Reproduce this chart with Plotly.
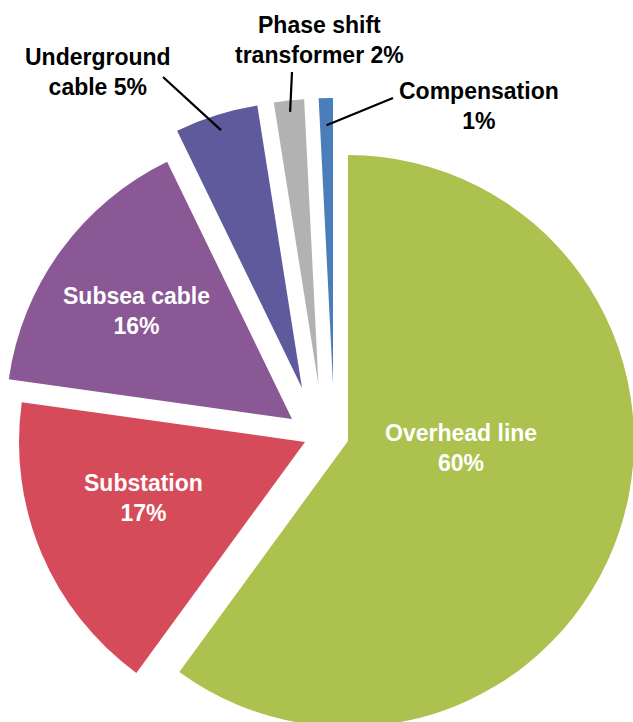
import math
import plotly.graph_objects as go

# Share of total investment cost by asset type (%)
categories = ["Overhead line", "Substation", "Subsea cable",
              "Underground cable", "Phase shift transformer", "Compensation"]
shares = [60.1, 17.2, 15.6, 4.7, 1.7, 0.8]

# ---- styling / layout -------------------------------------------------
colors = ["#ADC14E", "#D64B5A", "#8A5895", "#5F5A9B", "#B2B2B2", "#4A7EBB"]
text_colors = ["white", "white", "white", "black", "black", "black"]
break_after = [2, 1, 2, 1, 2, 1]          # words on the first label line

W, H = 640, 740                            # canvas (page shows the top-left part)
R = 286                                    # pie radius, px
CENTER = (326, 420)                        # pie centre, px from top-left
EXPLODE = [(22, 21), (-21, 22), (-34, -1), (-24, -32), (-7.5, -35), (7, -36)]

# label anchor points (px from top-left)
LABEL_POS = [(461, 448), (143, 498), (136, 311), (98, 72), (319, 40), (479, 106)]
# leader lines for the small slices: tail point and radial fraction of tip
LEADERS = {3: ((163, 77), 0.945), 4: ((292, 72), 0.96), 5: ((393, 98), 0.905)}

FONT = "Liberation Sans, Arial, sans-serif"
FONT_SIZE = 23


def px_to_paper(x, y):
    return x / W, (H - y) / H


total = sum(shares)
fig = go.Figure()

# each slice is drawn by its own pie (others transparent) so it can be offset
cum = 0.0
mids = []
for i, v in enumerate(shares):
    start = cum / total * 360
    cum += v
    end = cum / total * 360
    mids.append((start + end) / 2)

    ax = CENTER[0] + EXPLODE[i][0]
    ay = CENTER[1] + EXPLODE[i][1]
    slice_cols = [colors[j] if j == i else "rgba(0,0,0,0)" for j in range(len(shares))]
    fig.add_trace(go.Pie(
        labels=categories,
        values=shares,
        sort=False,
        direction="clockwise",
        rotation=0,
        marker=dict(colors=slice_cols, line=dict(width=0)),
        textinfo="none",
        hoverinfo="skip",
        showlegend=False,
        domain=dict(x=[(ax - R) / W, (ax + R) / W],
                    y=[(H - ay - R) / H, (H - ay + R) / H]),
    ))

# labels
for i, name in enumerate(categories):
    pct = f"{round(shares[i] / total * 100)}%"
    words = name.split(" ")
    k = break_after[i]
    first = " ".join(words[:k])
    second = " ".join(words[k:] + [pct])
    x, y = px_to_paper(*LABEL_POS[i])
    fig.add_annotation(
        x=x, y=y, xref="paper", yref="paper",
        text=f"<b>{first}<br>{second}</b>",
        showarrow=False, xanchor="center", yanchor="middle",
        align="center",
        font=dict(family=FONT, size=FONT_SIZE, color=text_colors[i]),
    )

# leader lines from label to slice
for i, ((tx, ty), frac) in LEADERS.items():
    ax = CENTER[0] + EXPLODE[i][0]
    ay = CENTER[1] + EXPLODE[i][1]
    a = math.radians(mids[i])
    hx = ax + frac * R * math.sin(a)
    hy = ay - frac * R * math.cos(a)
    x0, y0 = px_to_paper(tx, ty)
    x1, y1 = px_to_paper(hx, hy)
    fig.add_shape(type="line", xref="paper", yref="paper",
                  x0=x0, y0=y0, x1=x1, y1=y1,
                  line=dict(color="black", width=2.2))

fig.update_layout(
    width=W, height=H,
    margin=dict(l=0, r=0, t=0, b=0),
    paper_bgcolor="white",
    plot_bgcolor="white",
)

fig.write_html(
    "out.html",
    config={"displayModeBar": False},
    post_script=("document.body.style.margin='0';"
                 "document.body.style.overflow='hidden';"
                 "document.documentElement.style.overflow='hidden';"),
)
